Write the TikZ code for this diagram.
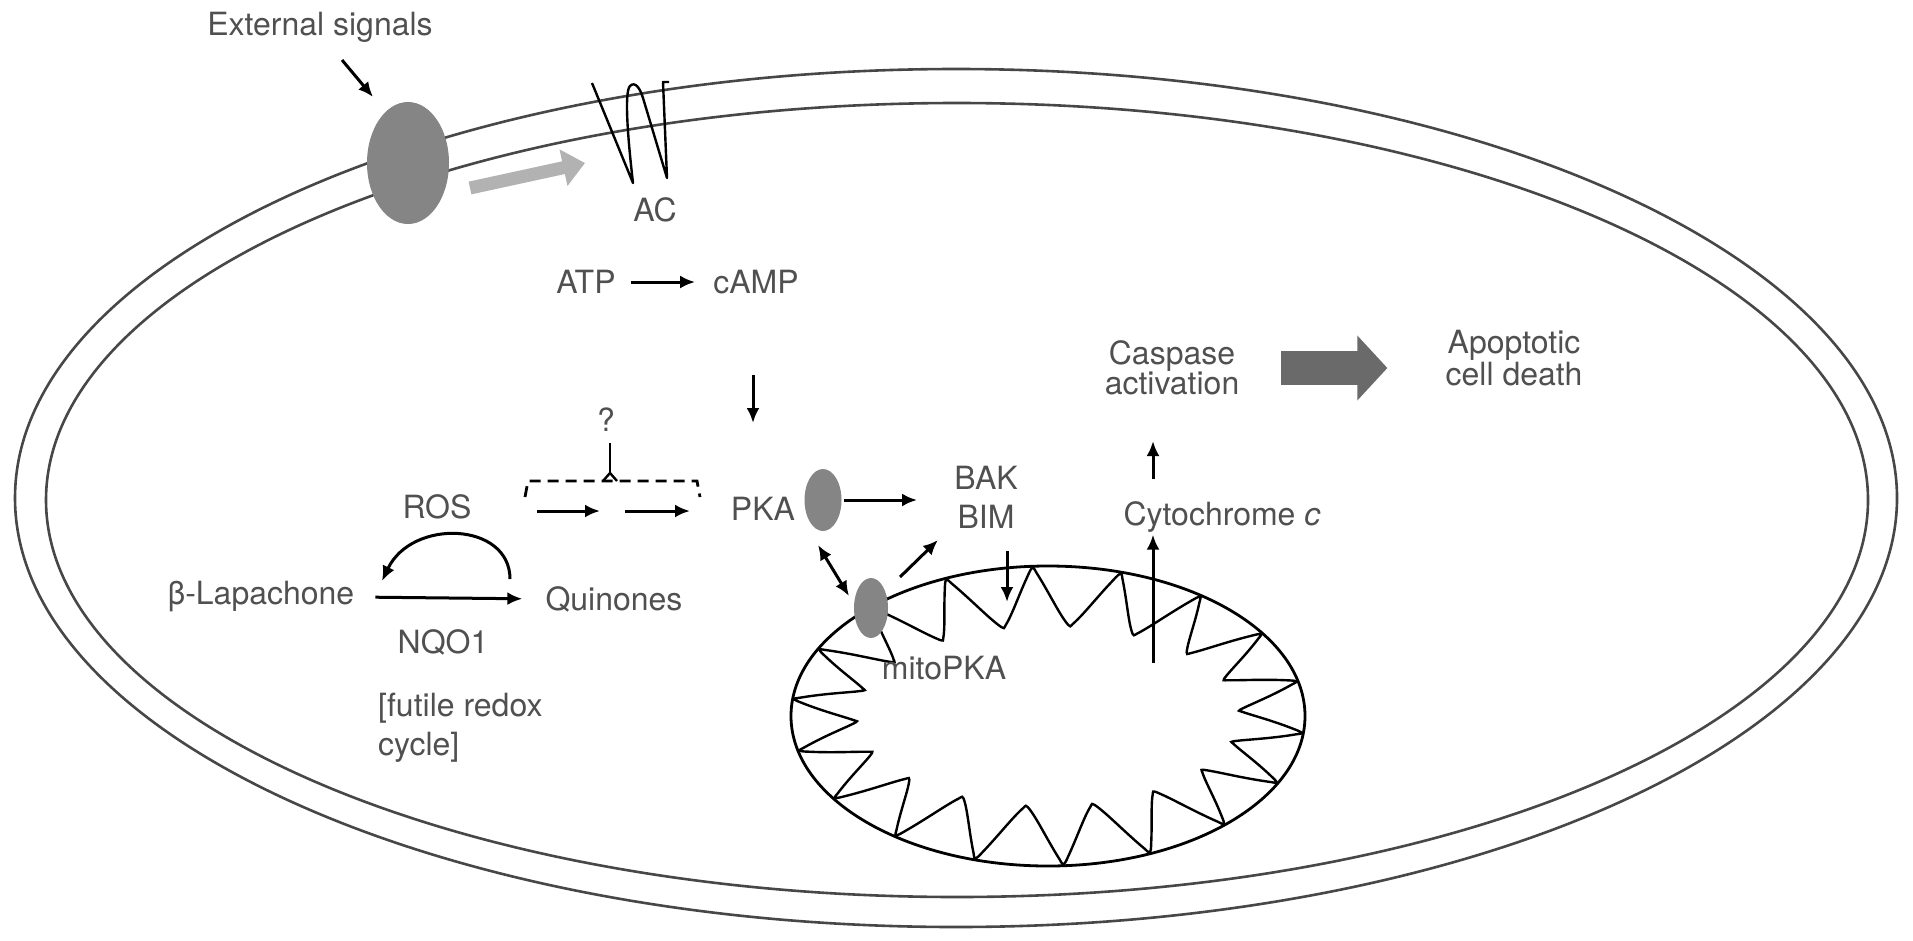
\documentclass[tikz,border=0pt]{standalone}
\usepackage{fontspec}
\setmainfont{TeX Gyre Heros}
\usetikzlibrary{arrows.meta,positioning,shapes.geometric}
\definecolor{txtgray}{HTML}{505050}
\definecolor{blobgray}{HTML}{858585}
\definecolor{signalgray}{HTML}{B2B2B2}
\definecolor{deathgray}{HTML}{6A6A6A}

\begin{document}
\begin{tikzpicture}[x=1pt, y=-1pt, font=\fontsize{32}{30}\selectfont]
            \tikzset{lbl/.style = {text=txtgray, inner sep=2pt, align=center}}
            \tikzset{blob/.style = {shape=ellipse, fill=blobgray, draw=none, inner sep=0pt}}
            \tikzset{edge/.style = {line width=3pt, -{Latex[length=15pt,width=13pt]}}}
            \tikzset{biedge/.style = {line width=3pt, {Latex[length=15pt,width=13pt]}-{Latex[length=15pt,width=13pt]}}}
            \tikzset{membrane/.style = {line width=2.6pt, draw=black!72}}

            \useasboundingbox (0,0) rectangle (1913,940);

            % cell membrane
            \draw[membrane] (956,498) ellipse [x radius=941, y radius=429];
            \draw[membrane] (957,500) ellipse [x radius=911, y radius=397];

            % adenylyl cyclase
            \draw[line width=2.4pt, line join=round] (592,83) -- (633,183)
                .. controls (628,140) and (624,92) .. (630,86)
                .. controls (635,81) and (640,88) .. (643,98) -- (667,178)
                -- (663,82) -- (669,82);

            \node[lbl] (ext) at (320,27) {External signals};
            \node[blob, minimum width=82pt, minimum height=122pt] (rec) at (408,163) {};
            \node[lbl] (ac) at (655,210) {AC};
            \node[lbl] (atp) at (586,282) {ATP};
            \node[lbl] (camp) at (756,282) {cAMP};
            \node[lbl] (pka) at (763,509) {PKA};
            \node[blob, minimum width=37pt, minimum height=62pt] (pkab) at (823,500) {};
            \node[lbl, font=\fontsize{32}{39}\selectfont] (bak) at (986,497) {BAK\\BIM};
            \node[lbl] (q) at (606,420) {?};
            \node[lbl] (ros) at (437,507) {ROS};
            \node[lbl] (lap) at (261,597) {β-Lapachone};
            \node[lbl] (quin) at (614,599) {Quinones};
            \node[lbl] (nqo) at (443,642) {NQO1};
            \node[lbl, align=left, anchor=west, font=\fontsize{32}{39}\selectfont] (futile) at (376,728) {[futile redox\\cycle]};
            \node[lbl] (cyto) at (1222,517) {Cytochrome \textit{c}};
            \node[lbl] (casp) at (1172,368) {Caspase\\activation};
            \node[lbl] (death) at (1514,358) {Apoptotic\\cell death};

            % mitochondrion
            \draw[line width=2.4pt] plot[domain=0:360, samples=541, smooth]
                ({1048+(257-66*(0.5*asin(abs(sin(9*(\x-226.5))))/90+0.5*abs(sin(9*(\x-226.5)))))*cos(\x)},
                 {716+(150-60*(0.5*asin(abs(sin(9*(\x-226.5))))/90+0.5*abs(sin(9*(\x-226.5)))))*sin(\x)}) -- cycle;
            \draw[line width=2.8pt] (1048,716) ellipse [x radius=257, y radius=150];
            \node[blob, minimum width=34pt, minimum height=60pt] (mpka) at (871,608) {};
            \node[lbl] (mito) at (944,668) {mitoPKA};

            \coordinate (sig) at (342,60);
            \coordinate (sigend) at (373,97);
            \coordinate (gs) at (470,188);
            \coordinate (ge) at (585,163);
            \coordinate (dqs) at (610,443);
            \coordinate (dqj) at (610,473);
            \coordinate (a1s) at (537,511);
            \coordinate (a1e) at (600,511);
            \coordinate (a2s) at (625,511);
            \coordinate (a2e) at (690,511);
            \coordinate (cin) at (753,375);
            \coordinate (pkain) at (753,423);
            \coordinate (dA) at (818,545);
            \coordinate (dB) at (849,596);
            \coordinate (mB) at (900,577);
            \coordinate (bimout) at (938,540);
            \coordinate (bimin) at (1007,602);
            \coordinate (cytout) at (1153,663);
            \coordinate (casin) at (1153,441);
            \coordinate (rosr) at (510,579);
            \coordinate (rosl) at (382,581);

            \draw[edge] (sig) -- (sigend);
            \draw[line width=13pt, signalgray, -{Triangle[length=22pt,width=36pt]}] (gs) -- (ge);
            \draw[edge, shorten <=13pt, shorten >=16pt] (atp) -- (camp);
            \draw[edge] (cin) -- (pkain);

            % unknown link
            \draw[line width=2.6pt] (dqs) -- (dqj);
            \draw[line width=2.4pt] (603,481) -- (dqj) -- (617,481);
            \draw[line width=2.8pt, dash pattern=on 11pt off 7pt] (525,497) -- (528,481) -- (697,481) -- (700,497);
            \draw[edge] (a1s) -- (a1e);
            \draw[edge] (a2s) -- (a2e);

            \draw[edge, shorten <=2pt, shorten >=35pt] (pkab) -- (pkab -| bak.west);
            \draw[biedge] (dA) -- (dB);
            \draw[edge] (mB) -- (bimout);
            \draw[edge, shorten <=21pt] (bimin |- bak.south) -- (bimin);
            \draw[edge] (cytout) -- (cytout |- cyto.south);
            \draw[edge, shorten <=20pt] (cytout |- cyto.north) -- (casin);
            \draw[line width=34pt, deathgray, -{Triangle[length=30pt,width=63pt]}, shorten <=40pt, shorten >=56pt] (casp.east) -- (casp.east -| death.west);

            % redox cycle
            \draw[edge, shorten <=19pt, shorten >=21pt] (lap.east) -- (quin.west);
            \draw[edge] (rosr) .. controls (510,522) and (412,518) .. (rosl);
\end{tikzpicture}
\end{document}
